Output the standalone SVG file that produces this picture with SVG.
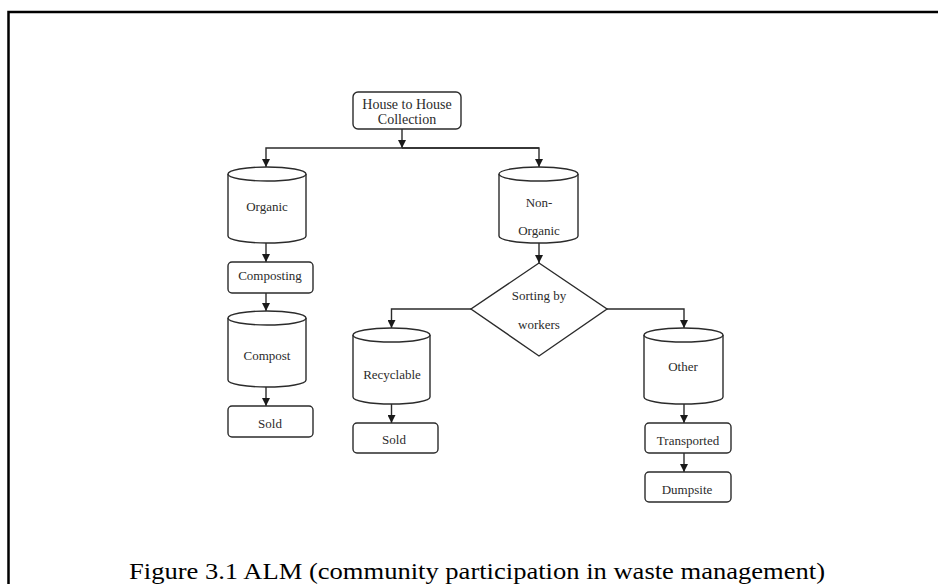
<svg xmlns="http://www.w3.org/2000/svg" width="938" height="584" viewBox="0 0 938 584">
<style>
.shape{fill:#ffffff;stroke:#2b2b2b;stroke-width:1.4}
.edge{fill:none;stroke:#2b2b2b;stroke-width:1.4;marker-end:url(#arr)}
.lbl{font-family:"Liberation Serif","Times New Roman",serif;font-size:13px;fill:#2b2b2b;text-anchor:middle}
.frame{stroke:#000;stroke-width:2.5;fill:none}
.cap{font-family:"Liberation Serif","Times New Roman",serif;font-size:24px;fill:#000;text-anchor:middle}
</style>
<defs>
<marker id="arr" markerUnits="userSpaceOnUse" markerWidth="8" markerHeight="8" refX="8" refY="4" orient="auto">
<path d="M0,0 L8,4 L0,8 Z" fill="#1a1a1a"/>
</marker>
</defs>
<rect width="938" height="584" fill="#ffffff"/>
<path class="frame" d="M8.5,584 L8.5,12 L938,12"/>

<g id="connectors">
<path class="edge" d="M402,129 L402,148"/>
<path class="edge" d="M539,148 L266,148 L266,167"/>
<path class="edge" d="M402,148 L539,148 L539,167"/>
<path class="edge" d="M266,243 L266,262"/>
<path class="edge" d="M266,293 L266,311"/>
<path class="edge" d="M266,387 L266,406"/>
<path class="edge" d="M539,243 L539,263"/>
<path class="edge" d="M471,309 L391.5,309 L391.5,328"/>
<path class="edge" d="M391.5,404 L391.5,423"/>
<path class="edge" d="M607,309 L684,309 L684,328"/>
<path class="edge" d="M684,404 L684,423"/>
<path class="edge" d="M684,453 L684,472"/>
</g>

<g id="house">
<rect class="shape" x="353" y="92" width="108" height="37" rx="5"/>
<text class="lbl" style="font-size:14px" x="407" y="108.5">House to House</text>
<text class="lbl" style="font-size:14px" x="407" y="123.5">Collection</text>
</g>

<g id="organic">
<path class="shape" d="M228,174 A39,7 0 0,1 306,174 L306,236 A39,7 0 0,1 228,236 Z"/>
<path class="shape" d="M228,174 A39,7 0 0,0 306,174"/>
<text class="lbl" x="267" y="210.5">Organic</text>
</g>

<g id="nonorganic">
<path class="shape" d="M499,174 A39.5,7 0 0,1 578,174 L578,236 A39.5,7 0 0,1 499,236 Z"/>
<path class="shape" d="M499,174 A39.5,7 0 0,0 578,174"/>
<text class="lbl" x="539" y="206.5">Non-</text>
<text class="lbl" x="539" y="234.5">Organic</text>
</g>

<g id="composting">
<rect class="shape" x="228" y="262" width="85" height="31" rx="4"/>
<text class="lbl" x="270" y="279.5">Composting</text>
</g>

<g id="compost">
<path class="shape" d="M228,318 A39,7 0 0,1 306,318 L306,380 A39,7 0 0,1 228,380 Z"/>
<path class="shape" d="M228,318 A39,7 0 0,0 306,318"/>
<text class="lbl" x="267" y="359.5">Compost</text>
</g>

<g id="sold1">
<rect class="shape" x="228" y="406" width="85" height="31" rx="4"/>
<text class="lbl" x="270" y="427.5">Sold</text>
</g>

<g id="sorting">
<polygon class="shape" points="539,263 607,309 539,356 471,309"/>
<text class="lbl" x="539" y="300">Sorting by</text>
<text class="lbl" x="539" y="329">workers</text>
</g>

<g id="recyclable">
<path class="shape" d="M353,335 A38.5,7 0 0,1 430,335 L430,397 A38.5,7 0 0,1 353,397 Z"/>
<path class="shape" d="M353,335 A38.5,7 0 0,0 430,335"/>
<text class="lbl" x="392" y="378.5">Recyclable</text>
</g>

<g id="sold2">
<rect class="shape" x="353" y="423" width="85" height="30" rx="4"/>
<text class="lbl" x="394" y="443.5">Sold</text>
</g>

<g id="other">
<path class="shape" d="M644,335 A39.5,7 0 0,1 723,335 L723,397 A39.5,7 0 0,1 644,397 Z"/>
<path class="shape" d="M644,335 A39.5,7 0 0,0 723,335"/>
<text class="lbl" x="683" y="371">Other</text>
</g>

<g id="transported">
<rect class="shape" x="645" y="423" width="86" height="30" rx="4"/>
<text class="lbl" x="688" y="444.5">Transported</text>
</g>

<g id="dumpsite">
<rect class="shape" x="645" y="472" width="86" height="30" rx="4"/>
<text class="lbl" x="687" y="493.5">Dumpsite</text>
</g>

<text class="cap" x="477" y="579" textLength="696" lengthAdjust="spacingAndGlyphs">Figure 3.1 ALM (community participation in waste management)</text>
</svg>
